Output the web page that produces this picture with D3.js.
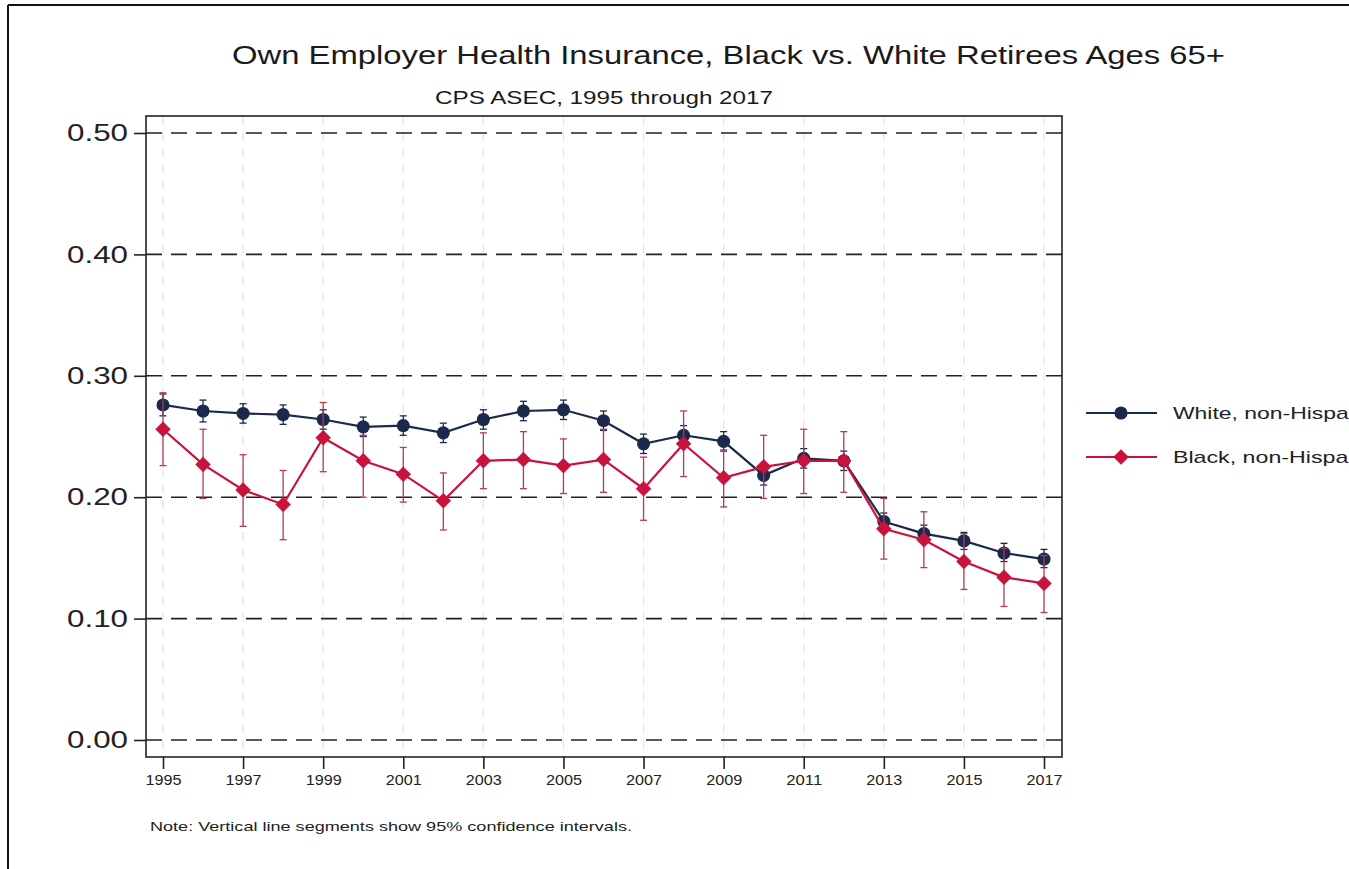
<!DOCTYPE html>
<html>
<head>
<meta charset="utf-8">
<script src="https://cdn.jsdelivr.net/npm/d3@7"></script>
<style>
  html, body { margin: 0; padding: 0; background: #fff; overflow: hidden; }
  svg { display: block; font-family: "Liberation Sans", Arial, Helvetica, sans-serif; }
</style>
</head>
<body>
<svg id="chart" width="1349" height="869"></svg>
<script>
// Survey years
const years = [1995, 1996, 1997, 1998, 1999, 2000, 2001, 2002, 2003, 2004, 2005, 2006,
               2007, 2008, 2009, 2010, 2011, 2012, 2013, 2014, 2015, 2016, 2017];

// Share with own-employer health insurance, White non-Hispanic retirees 65+
const whiteShare = [0.276, 0.271, 0.269, 0.268, 0.264, 0.258, 0.259, 0.253, 0.264, 0.271, 0.272, 0.263,
                    0.244, 0.251, 0.246, 0.218, 0.232, 0.230, 0.180, 0.170, 0.164, 0.154, 0.149];
const whiteLow   = [0.267, 0.262, 0.261, 0.260, 0.256, 0.250, 0.251, 0.245, 0.256, 0.263, 0.264, 0.255,
                    0.236, 0.243, 0.238, 0.210, 0.224, 0.222, 0.173, 0.163, 0.157, 0.147, 0.142];
const whiteHigh  = [0.285, 0.280, 0.277, 0.276, 0.272, 0.266, 0.267, 0.261, 0.272, 0.279, 0.280, 0.271,
                    0.252, 0.259, 0.254, 0.226, 0.240, 0.238, 0.187, 0.177, 0.171, 0.162, 0.157];

// Share with own-employer health insurance, Black non-Hispanic retirees 65+
const blackShare = [0.256, 0.227, 0.206, 0.194, 0.249, 0.230, 0.219, 0.197, 0.230, 0.231, 0.226, 0.231,
                    0.207, 0.244, 0.216, 0.225, 0.230, 0.230, 0.174, 0.165, 0.147, 0.134, 0.129];
const blackLow   = [0.226, 0.199, 0.176, 0.165, 0.221, 0.200, 0.196, 0.173, 0.207, 0.207, 0.203, 0.204,
                    0.181, 0.217, 0.192, 0.199, 0.203, 0.204, 0.149, 0.142, 0.124, 0.110, 0.105];
const blackHigh  = [0.286, 0.256, 0.235, 0.222, 0.278, 0.251, 0.241, 0.220, 0.253, 0.254, 0.248, 0.256,
                    0.233, 0.271, 0.239, 0.251, 0.256, 0.254, 0.199, 0.188, 0.170, 0.158, 0.152];

const yTicks = [0, 0.1, 0.2, 0.3, 0.4, 0.5];
const xTicks = [1995, 1997, 1999, 2001, 2003, 2005, 2007, 2009, 2011, 2013, 2015, 2017];

const titleText = "Own Employer Health Insurance, Black vs. White Retirees Ages 65+";
const subtitleText = "CPS ASEC, 1995 through 2017";
const noteText = "Note: Vertical line segments show 95% confidence intervals.";
const seriesNames = ["White, non-Hispanic", "Black, non-Hispanic"];

const navy = "#1b2a4b";
const red = "#c8143c";
const redBar = "#b23a58";
const ink = "#222";

const svg = d3.select("#chart");

// Outer graph border (top and left edges visible in the frame)
svg.append("line").attr("x1", 8).attr("x2", 1349).attr("y1", 5).attr("y2", 5)
  .attr("stroke", "#111").attr("stroke-width", 2);
svg.append("line").attr("x1", 8).attr("x2", 8).attr("y1", 5).attr("y2", 869)
  .attr("stroke", "#111").attr("stroke-width", 2);

// Plot region
const plot = { left: 146, right: 1062, top: 116, bottom: 757 };

const x = d3.scaleLinear().domain([1995, 2017]).range([163, 1044]);
const y = d3.scaleLinear().domain([0, 0.5]).range([740, 133]);

// Vertical light dashed grid at x ticks
svg.append("g").selectAll("line").data(xTicks).join("line")
  .attr("x1", d => x(d)).attr("x2", d => x(d))
  .attr("y1", plot.top).attr("y2", plot.bottom)
  .attr("stroke", "#e4e4e4").attr("stroke-width", 1.2)
  .attr("stroke-dasharray", "9,7");

// Horizontal black dashed grid at y ticks
svg.append("g").selectAll("line").data(yTicks).join("line")
  .attr("x1", plot.left).attr("x2", plot.right)
  .attr("y1", d => y(d)).attr("y2", d => y(d))
  .attr("stroke", ink).attr("stroke-width", 1.6)
  .attr("stroke-dasharray", "16,9");

// Plot frame
svg.append("rect")
  .attr("x", plot.left).attr("y", plot.top)
  .attr("width", plot.right - plot.left).attr("height", plot.bottom - plot.top)
  .attr("fill", "none").attr("stroke", ink).attr("stroke-width", 1.6);

// Y axis
const yAxis = d3.axisLeft(y).tickValues(yTicks).tickFormat(d3.format(".2f"))
  .tickSize(12).tickPadding(6);
const gy = svg.append("g").attr("transform", `translate(${plot.left},0)`).call(yAxis);
gy.select(".domain").remove();
gy.selectAll(".tick line").attr("stroke", ink).attr("stroke-width", 1.6);
gy.selectAll(".tick text").attr("font-size", 24).attr("fill", ink)
  .attr("font-family", "Liberation Sans, Arial, sans-serif")
  .attr("textLength", 61).attr("lengthAdjust", "spacingAndGlyphs");

// X axis
const xAxis = d3.axisBottom(x).tickValues(xTicks).tickFormat(d3.format("d"))
  .tickSize(12).tickPadding(6);
const gx = svg.append("g").attr("transform", `translate(0,${plot.bottom})`).call(xAxis);
gx.select(".domain").remove();
gx.selectAll(".tick line").attr("stroke", ink).attr("stroke-width", 1.6);
gx.selectAll(".tick text").attr("font-size", 14.5).attr("fill", ink)
  .attr("font-family", "Liberation Sans, Arial, sans-serif")
  .attr("textLength", 36).attr("lengthAdjust", "spacingAndGlyphs");

// Series
const series = [
  { name: seriesNames[0], color: navy, bar: navy, shape: "circle",
    rows: years.map((yr, i) => ({ yr, v: whiteShare[i], lo: whiteLow[i], hi: whiteHigh[i] })) },
  { name: seriesNames[1], color: red, bar: redBar, shape: "diamond",
    rows: years.map((yr, i) => ({ yr, v: blackShare[i], lo: blackLow[i], hi: blackHigh[i] })) }
];

const line = d3.line().x(d => x(d.yr)).y(d => y(d.v));
const circleSym = d3.symbol().type(d3.symbolCircle).size(135);
const diamondSym = d3.symbol().type(d3.symbolSquare).size(120);

function drawMarker(sel, s, cx, cy) {
  if (s.shape === "circle") {
    sel.attr("d", circleSym()).attr("transform", `translate(${cx},${cy})`);
  } else {
    sel.attr("d", diamondSym()).attr("transform", `translate(${cx},${cy}) rotate(45)`);
  }
}

series.forEach(s => {
  const g = svg.append("g");
  // confidence intervals
  const ci = g.append("g").selectAll("g").data(s.rows).join("g");
  ci.append("line")
    .attr("x1", d => x(d.yr)).attr("x2", d => x(d.yr))
    .attr("y1", d => y(d.lo)).attr("y2", d => y(d.hi))
    .attr("stroke", s.bar).attr("stroke-width", 1.3);
  ci.append("line")
    .attr("x1", d => x(d.yr) - 3.5).attr("x2", d => x(d.yr) + 3.5)
    .attr("y1", d => y(d.lo)).attr("y2", d => y(d.lo))
    .attr("stroke", s.bar).attr("stroke-width", 1.3);
  ci.append("line")
    .attr("x1", d => x(d.yr) - 3.5).attr("x2", d => x(d.yr) + 3.5)
    .attr("y1", d => y(d.hi)).attr("y2", d => y(d.hi))
    .attr("stroke", s.bar).attr("stroke-width", 1.3);
  // connecting line
  g.append("path").datum(s.rows)
    .attr("d", line).attr("fill", "none")
    .attr("stroke", s.color).attr("stroke-width", 2.2);
  // markers
  g.append("g").selectAll("path").data(s.rows).join("path")
    .attr("fill", s.color)
    .each(function (d) { drawMarker(d3.select(this), s, x(d.yr), y(d.v)); });
});

// Legend
const legendY = [413, 457];
series.forEach((s, i) => {
  const lg = svg.append("g");
  lg.append("line").attr("x1", 1086).attr("x2", 1157)
    .attr("y1", legendY[i]).attr("y2", legendY[i])
    .attr("stroke", s.color).attr("stroke-width", 2.2);
  lg.append("path").attr("fill", s.color)
    .call(sel => drawMarker(sel, s, 1121, legendY[i]));
  lg.append("text").attr("x", 1173).attr("y", legendY[i]).attr("dy", "0.36em")
    .attr("font-size", 17).attr("fill", ink)
    .attr("textLength", 205).attr("lengthAdjust", "spacingAndGlyphs")
    .text(s.name);
});

// Titles
svg.append("text").attr("x", 232).attr("y", 64)
  .attr("font-size", 26).attr("fill", "#1a1a1a")
  .attr("textLength", 993).attr("lengthAdjust", "spacingAndGlyphs")
  .text(titleText);
svg.append("text").attr("x", 435).attr("y", 104)
  .attr("font-size", 18).attr("fill", "#1a1a1a")
  .attr("textLength", 338).attr("lengthAdjust", "spacingAndGlyphs")
  .text(subtitleText);

// Note
svg.append("text").attr("x", 150).attr("y", 831)
  .attr("font-size", 13.5).attr("fill", ink)
  .attr("textLength", 482).attr("lengthAdjust", "spacingAndGlyphs")
  .text(noteText);
</script>
</body>
</html>
